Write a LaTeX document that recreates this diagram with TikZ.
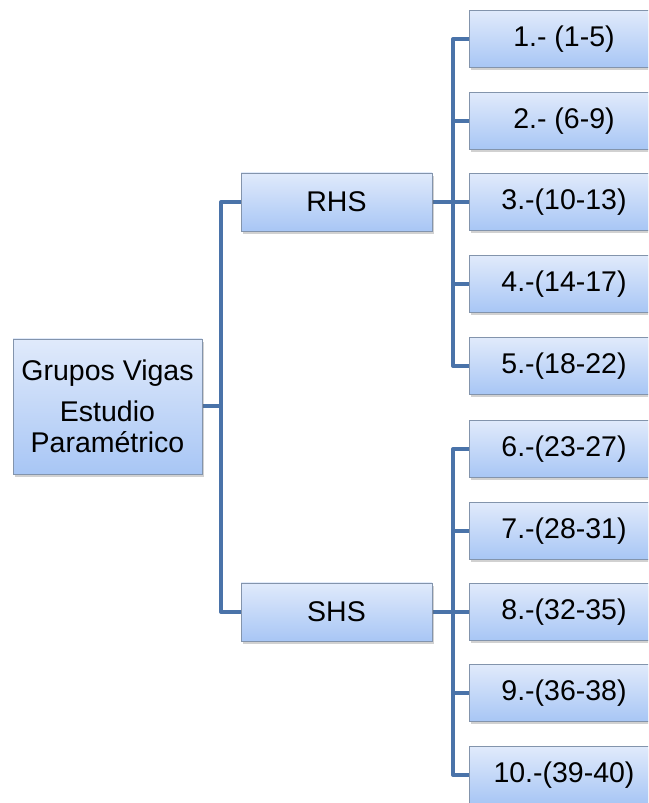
\documentclass[tikz,border=0pt]{standalone}
\usepackage{fontspec}
\setmainfont{Liberation Sans}
\usetikzlibrary{shadows,backgrounds}
\definecolor{linkblue}{HTML}{4A73A9}
\definecolor{boxtop}{HTML}{E0EAFB}
\definecolor{boxbottom}{HTML}{A8C6F5}
\definecolor{boxedge}{HTML}{8394AC}
\tikzset{
  box/.style={draw=boxedge, line width=0.8pt, top color=boxtop, bottom color=boxbottom,
    minimum width=191pt, minimum height=58pt, inner sep=0pt, align=center,
    font=\fontsize{28.5}{31}\selectfont,
    drop shadow={shadow xshift=2pt, shadow yshift=-3pt, opacity=0.3, fill=black!60}},
  leaf/.style={box, minimum width=190pt, minimum height=57pt},
  link/.style={draw=linkblue, line width=4pt, line join=round, line cap=butt}
}
\begin{document}
\begin{tikzpicture}[x=1pt, y=1pt]
\useasboundingbox (0,0) rectangle (648,803);
\begin{scope}
\clip (0,0) rectangle (648,803);
% root and group boxes
\node[box, minimum width=189pt, minimum height=135pt] (root) at (107.5,396.5)
  {Grupos Vigas\\[10pt]Estudio\\Paramétrico};
\node[box] (rhs) at (336.5,601) {RHS};
\node[box] (shs) at (336.5,191) {SHS};
% beam series
\node[leaf] (l1) at (564,764) {1.- (1-5)};
\node[leaf] (l2) at (564,682) {2.- (6-9)};
\node[leaf] (l3) at (564,601) {3.-(10-13)};
\node[leaf] (l4) at (564,519) {4.-(14-17)};
\node[leaf] (l5) at (564,437) {5.-(18-22)};
\node[leaf] (l6) at (564,354) {6.-(23-27)};
\node[leaf] (l7) at (564,272) {7.-(28-31)};
\node[leaf] (l8) at (564,191) {8.-(32-35)};
\node[leaf] (l9) at (564,110) {9.-(36-38)};
\node[leaf] (l10) at (564,28) {10.-(39-40)};
% bus lines
\coordinate (trunk) at (221,396.5);
\coordinate (rbus) at (453,601);
\coordinate (sbus) at (453,191);
\begin{scope}[on background layer]
\draw[link] (root.east) -- (trunk);
\draw[link] (rhs.west) -| (trunk) |- (shs.west);
\draw[link] (rhs.east) -- (l3.west);
\draw[link] (l1.west) -| (rbus) |- (l5.west);
\draw[link] (l2.west) -- (l2.west -| rbus);
\draw[link] (l4.west) -- (l4.west -| rbus);
\draw[link] (shs.east) -- (l8.west);
\draw[link] (l6.west) -| (sbus) |- (l10.west);
\draw[link] (l7.west) -- (l7.west -| sbus);
\draw[link] (l9.west) -- (l9.west -| sbus);
\end{scope}
\end{scope}
\end{tikzpicture}
\end{document}
